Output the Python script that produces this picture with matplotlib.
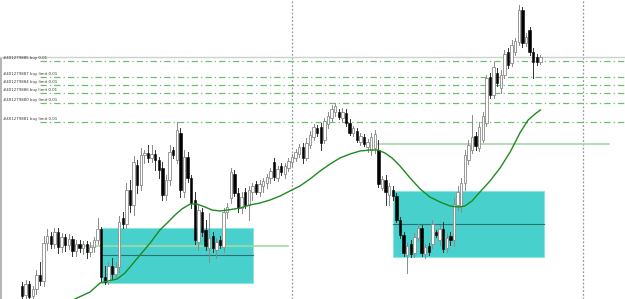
import matplotlib
matplotlib.use("Agg")
import matplotlib.pyplot as plt
from matplotlib.patches import Rectangle

# candle data (arbitrary price units), one candle per bar index
opens = [14, 5, 16, 4, 11, 25, 19, 57, 64, 56, 68, 53, 63, 55, 61, 49, 56, 52, 56, 48,
         53, 60, 71, 23, 18, 34, 26, 33, 82, 76, 110, 95, 135, 115, 145, 147, 142, 146, 140, 132,
         105, 120, 150, 140, 167, 108, 143, 122, 100, 58, 88, 70, 52, 64, 50, 60, 53, 88, 102, 126,
         107, 92, 108, 95, 108, 116, 108, 114, 117, 122, 138, 122, 134, 126, 132, 138, 142, 146, 153, 142,
         155, 163, 172, 173, 160, 176, 182, 188, 188, 182, 187, 177, 167, 169, 158, 163, 153, 150, 152, 150,
         112, 120, 105, 110, 104, 80, 65, 45, 56, 47, 62, 72, 46, 54, 56, 68, 60, 71, 52, 64,
         60, 95, 93, 117, 140, 150, 164, 152, 160, 177, 223, 205, 227, 212, 225, 248, 237, 248, 258, 290,
         257, 270, 248, 243, 238]
highs = [18, 20, 19, 14, 30, 38, 64, 71, 68, 72, 72, 67, 66, 66, 64, 60, 60, 59, 59, 58,
         63, 82, 73, 34, 38, 42, 38, 84, 88, 117, 120, 144, 140, 152, 150, 155, 155, 150, 143, 138,
         125, 155, 153, 178, 172, 150, 148, 125, 108, 95, 92, 80, 87, 68, 62, 64, 92, 97, 132, 130,
         112, 108, 112, 114, 117, 119, 120, 122, 126, 132, 142, 134, 137, 137, 142, 146, 151, 156, 157, 162,
         169, 176, 175, 177, 182, 188, 195, 197, 191, 192, 191, 181, 174, 172, 167, 166, 161, 167, 170, 160,
         124, 125, 117, 114, 107, 83, 68, 57, 60, 67, 76, 75, 56, 57, 80, 70, 75, 78, 67, 68,
         102, 114, 122, 150, 160, 185, 168, 178, 188, 225, 227, 238, 232, 230, 250, 252, 260, 262, 295, 293,
         267, 273, 252, 246, 245]
lows = [1, 1, 1, 1, 6, 15, 14, 50, 52, 52, 47, 48, 49, 51, 44, 44, 48, 46, 42, 44,
        48, 56, 19, 16, 16, 21, 22, 28, 72, 72, 88, 85, 107, 110, 137, 138, 138, 130, 122, 100,
        100, 115, 142, 137, 103, 103, 118, 92, 56, 50, 64, 50, 38, 48, 42, 52, 48, 82, 97, 104,
        88, 87, 92, 80, 100, 106, 104, 108, 112, 117, 120, 119, 125, 122, 129, 134, 139, 143, 137, 140,
        152, 160, 164, 150, 157, 172, 179, 184, 181, 178, 174, 165, 164, 158, 155, 154, 148, 145, 147, 113,
        110, 95, 95, 100, 78, 62, 44, 27, 43, 43, 60, 44, 42, 45, 52, 63, 55, 48, 48, 55,
        54, 90, 88, 110, 136, 147, 150, 149, 158, 174, 202, 202, 214, 207, 222, 232, 234, 245, 255, 253,
        254, 245, 222, 235, 236]
closes = [4, 16, 3, 11, 25, 19, 57, 64, 56, 68, 53, 63, 55, 61, 49, 56, 52, 56, 48, 53,
          60, 71, 23, 18, 34, 26, 33, 78, 76, 110, 95, 138, 115, 145, 147, 142, 146, 140, 130, 105,
          120, 148, 145, 170, 110, 143, 122, 97, 60, 90, 68, 54, 62, 52, 58, 55, 88, 93, 128, 107,
          92, 103, 95, 110, 114, 108, 116, 119, 123, 129, 123, 131, 128, 134, 139, 143, 148, 153, 142, 157,
          165, 173, 167, 157, 179, 184, 191, 194, 183, 188, 177, 167, 172, 160, 164, 156, 158, 163, 166, 116,
          121, 108, 114, 104, 80, 65, 47, 54, 46, 63, 72, 47, 53, 48, 76, 65, 71, 51, 62, 60,
          96, 108, 117, 145, 155, 163, 154, 173, 184, 222, 205, 233, 217, 225, 246, 235, 255, 259, 290, 257,
          263, 248, 238, 238, 243]

# moving average (bar index, value)
ma_idx = [12.5, 15.3, 18.9, 21.7, 23.9, 26.4, 28.6, 30, 32.8, 35.6, 38.3, 40.6, 42.5, 44.4, 46.7,
          48.6, 50.8, 52.8, 55, 57.2, 60.6, 63.3, 66.1, 68.9, 71.7, 74.4, 77.2, 80, 82.8, 85.6,
          88.3, 91.1, 93.9, 96.7, 98.9, 100.8, 102.8, 105, 107.8, 110.6, 113.3, 116.1, 118.9, 121.1,
          123, 125, 127.2, 130, 132.8, 135.6, 138.3, 140.6, 142.5, 144]
ma_val = [-3, 2, 8, 17, 19, 21, 27, 33, 45, 57, 70, 78, 85, 91, 96,
          96, 93, 90, 89, 90, 92, 95, 97, 100, 104, 109, 114, 121, 129, 136,
          142, 146, 149, 150, 150, 147, 142, 134, 122, 111, 103, 98, 94, 93,
          94, 99, 108, 119, 132, 148, 167, 180, 186, 190]

# zones: (start bar, end bar, low, high, mid line)
zone1 = (22.2, 64.2, 17, 72, 45)
zone2 = (103.1, 145.1, 43, 109, 76)

# pending orders
order_levels = [239, 223, 215, 207, 197, 178]
order_labels = ["#401279885 buy 0.01", "#401279887 buy limit 0.01", "#401279884 buy limit 0.01",
                "#401279886 buy limit 0.01", "#401279880 buy limit 0.01", "#401279881 buy limit 0.01"]
bid_level = 243
pale_lines = [(14.7, 73.9, 54.5), (98.9, 163.0, 156.5)]
separators = [74.9, 155.7]

fig = plt.figure(figsize=(6.25, 2.99), dpi=100)
ax = fig.add_axes([0, 0, 1, 1])
ax.set_xlim(-6.11, 167.5)
ax.set_ylim(1, 300)
ax.axis("off")

# period separators
for s in separators:
    ax.axvline(s, color="#9a9a9a", lw=0.9, ls=(0, (1.5, 1.5)), zorder=1)
ax.plot([-5.8, -5.8], [1, 242], color="#a8a8a8", lw=1.2, zorder=1)

# zones
for z in (zone1, zone2):
    ax.add_patch(Rectangle((z[0], z[2]), z[1] - z[0], z[3] - z[2],
                           facecolor="#48d1cc", edgecolor="#8fe3df", lw=0.8, zorder=2))
    ax.plot([z[0], z[1]], [z[4], z[4]], color="#2f6f6f", lw=0.8, zorder=3)

for x0, x1, lv in pale_lines:
    ax.plot([x0, x1], [lv, lv], color="#a6d8a6", lw=1.2, zorder=3)

ax.axhline(bid_level, color="#cfcfcf", lw=1.0, zorder=1)
for lv, lab in zip(order_levels, order_labels):
    ax.plot([5, 167.5], [lv, lv], color="#6cbf6c", lw=0.9, ls=(0, (5, 2.5, 1, 2.5)), zorder=1)
    ax.text(-5.2, lv + 1, lab, fontsize=2.8, color="#333333", va="bottom", ha="left")

# candles
idx = range(len(opens))
for i in idx:
    o, h, l, c = opens[i], highs[i], lows[i], closes[i]
    bull = c >= o
    wick = "#8a8a8a" if bull else "#333333"
    ax.plot([i, i], [l, h], color=wick, lw=0.7, zorder=4)
    bot = min(o, c)
    ht = max(abs(c - o), 1)
    if bull:
        ax.bar(i, ht, bottom=bot, width=0.62, facecolor="white", edgecolor="#8a8a8a",
               linewidth=0.6, zorder=5)
    else:
        ax.bar(i, ht, bottom=bot, width=0.62, facecolor="black", edgecolor="black",
               linewidth=0.4, zorder=5)

ax.plot(ma_idx, ma_val, color="#1f8a1f", lw=1.0, zorder=6)

fig.savefig("out.png", dpi=100)
